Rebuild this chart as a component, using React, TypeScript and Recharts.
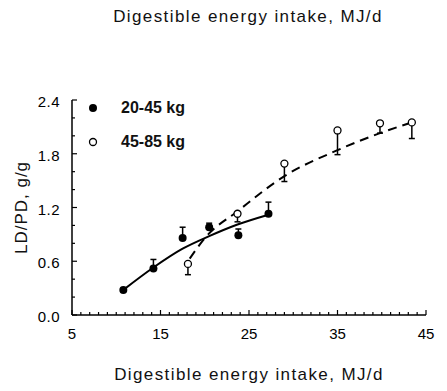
import React from "react";
import { ComposedChart, Line, Scatter, XAxis, YAxis, ErrorBar, Legend } from "recharts";

const FONT = '"Liberation Sans", Arial, Helvetica, sans-serif';

// 20-45 kg pigs (filled circles), SE bars point up
const lightIntake = [10.8, 14.2, 17.5, 20.5, 23.8, 27.2];
const lightRatio = [0.28, 0.52, 0.86, 0.98, 0.89, 1.13];
const lightSe = [0, 0.1, 0.12, 0.045, 0.07, 0.13];

// 45-85 kg pigs (open circles), SE bars point down
const heavyIntake = [18.1, 23.7, 29.0, 35.0, 39.8, 43.4];
const heavyRatio = [0.57, 1.13, 1.69, 2.06, 2.14, 2.15];
const heavySe = [0.12, 0.09, 0.2, 0.27, 0.11, 0.18];

// fitted curves
const lightFitX = [10.8, 14.2, 17.5, 20.5, 23.7, 27.2];
const lightFitY = [0.28, 0.53, 0.74, 0.88, 1.01, 1.12];
const heavyFitX = [18.3, 20.2, 23.6, 29.0, 35.0, 39.8, 43.4];
const heavyFitY = [0.63, 0.88, 1.15, 1.55, 1.84, 2.03, 2.15];

const legendItems = ["20-45 kg", "45-85 kg"];

const xTicks = [
  5, 6, 7, 8, 9, 10, 11, 12, 13, 14, 15, 16, 17, 18, 19, 20, 21, 22, 23, 24, 25,
  26, 27, 28, 29, 30, 31, 32, 33, 34, 35, 36, 37, 38, 39, 40, 41, 42, 43, 44, 45,
];
const xLabels = [5, 15, 25, 35, 45];
const yTicks = [0, 0.2, 0.4, 0.6, 0.8, 1.0, 1.2, 1.4, 1.6, 1.8, 2.0, 2.2, 2.4];
const yLabels = [0, 0.6, 1.2, 1.8, 2.4];

const lightPoints = lightIntake.map((x, i) => ({ x, y: lightRatio[i], se: [0, lightSe[i]] }));
const heavyPoints = heavyIntake.map((x, i) => ({ x, y: heavyRatio[i], se: [heavySe[i], 0] }));
const lightFit = lightFitX.map((x, i) => ({ x, y: lightFitY[i] }));
const heavyFit = heavyFitX.map((x, i) => ({ x, y: heavyFitY[i] }));

const XTick = (props: any) => {
  const { x, y, payload } = props;
  const big = xLabels.includes(payload.value);
  return (
    <g>
      <line x1={x} y1={y} x2={x} y2={y - (big ? 5 : 3)} stroke="#000" strokeWidth={1.2} />
      {big && (
        <text x={x} y={y + 24} textAnchor="middle" fontSize={15} fontFamily={FONT} fill="#000">
          {payload.value}
        </text>
      )}
    </g>
  );
};

const YTick = (props: any) => {
  const { x, y, payload } = props;
  const big = yLabels.includes(payload.value);
  return (
    <g>
      <line x1={x} y1={y} x2={x + (big ? 5 : 3)} y2={y} stroke="#000" strokeWidth={1.2} />
      {big && (
        <text x={x - 12} y={y + 7} textAnchor="end" fontSize={15} fontFamily={FONT} fill="#000" letterSpacing={0.5}>
          {payload.value.toFixed(1)}
        </text>
      )}
    </g>
  );
};

const FilledDot = (p: any) => <circle cx={p.cx} cy={p.cy} r={4} fill="#000" />;
const OpenDot = (p: any) => (
  <circle cx={p.cx} cy={p.cy} r={3.5} fill="#fff" stroke="#000" strokeWidth={1.3} />
);

const renderLegend = () => (
  <div style={{ fontFamily: FONT, fontSize: 16, fontWeight: 700, color: "#111" }}>
    {legendItems.map((name, i) => (
      <div
        key={name}
        style={{ display: "flex", alignItems: "center", height: 20, marginBottom: i === 0 ? 14 : 0 }}
      >
        <svg width={16} height={16}>
          {i === 0 ? (
            <circle cx={8} cy={8} r={4} fill="#000" />
          ) : (
            <circle cx={8} cy={8} r={3.5} fill="#fff" stroke="#000" strokeWidth={1.3} />
          )}
        </svg>
        <span style={{ marginLeft: 20 }}>{name}</span>
      </div>
    ))}
  </div>
);

export default function App() {
  return (
    <div style={{ position: "absolute", left: 0, top: 0, width: 447, height: 391, background: "#fff" }}>
      <div
        style={{
          position: "absolute",
          left: 48,
          top: 7,
          width: 400,
          textAlign: "center",
          fontFamily: FONT,
          fontSize: 17,
          lineHeight: "20px",
          letterSpacing: 1.4,
          color: "#111",
        }}
      >
        Digestible energy intake, MJ/d
      </div>
      <ComposedChart width={447} height={391} margin={{ top: 100, right: 21, bottom: 6, left: 0 }}>
        <XAxis
          dataKey="x"
          type="number"
          domain={[5, 45]}
          ticks={xTicks}
          interval={0}
          allowDataOverflow
          height={70}
          tickSize={0}
          tickMargin={0}
          tickLine={false}
          tick={<XTick />}
          axisLine={{ stroke: "#000", strokeWidth: 1.5 }}
          label={{
            value: "Digestible energy intake, MJ/d",
            position: "insideBottom",
            offset: 5,
            style: { fontSize: 17, letterSpacing: 1.4, fill: "#111", fontFamily: FONT },
          }}
        />
        <YAxis
          type="number"
          domain={[0, 2.4]}
          ticks={yTicks}
          interval={0}
          allowDataOverflow
          width={72}
          tickSize={0}
          tickMargin={0}
          tickLine={false}
          tick={<YTick />}
          axisLine={{ stroke: "#000", strokeWidth: 1.5 }}
          label={{
            value: "LD/PD, g/g",
            angle: -90,
            position: "insideLeft",
            offset: 21,
            style: { textAnchor: "middle", fontSize: 17, letterSpacing: 1, fill: "#111", fontFamily: FONT },
          }}
        />
        <Legend
          layout="vertical"
          align="center"
          verticalAlign="middle"
          content={renderLegend}
          wrapperStyle={{ left: 85, top: 98, width: "auto" }}
        />
        <Line
          data={lightFit}
          dataKey="y"
          type="monotone"
          stroke="#000"
          strokeWidth={2}
          dot={false}
          activeDot={false}
          legendType="none"
          isAnimationActive={false}
        />
        <Line
          data={heavyFit}
          dataKey="y"
          type="monotone"
          stroke="#000"
          strokeWidth={2}
          strokeDasharray="9 6"
          dot={false}
          activeDot={false}
          legendType="none"
          isAnimationActive={false}
        />
        <Scatter data={lightPoints} dataKey="y" shape={FilledDot} isAnimationActive={false}>
          <ErrorBar dataKey="se" direction="y" width={3} stroke="#000" strokeWidth={1.5} />
        </Scatter>
        <Scatter data={heavyPoints} dataKey="y" shape={OpenDot} isAnimationActive={false}>
          <ErrorBar dataKey="se" direction="y" width={3} stroke="#000" strokeWidth={1.5} />
        </Scatter>
      </ComposedChart>
    </div>
  );
}
